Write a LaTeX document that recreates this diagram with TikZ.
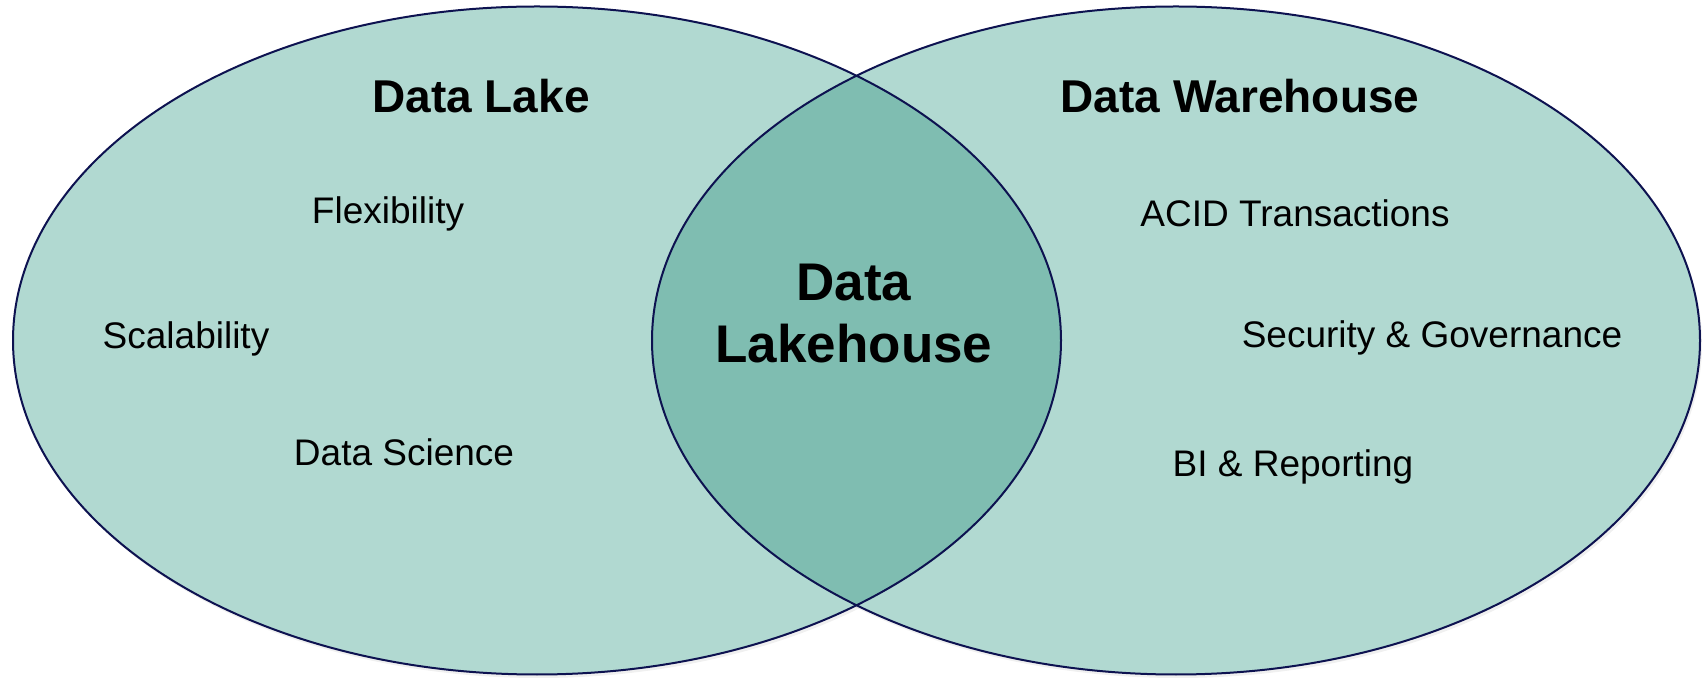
\documentclass[tikz,border=0pt]{standalone}
\usepackage{fontspec}
\setmainfont{Liberation Sans}
\definecolor{lightteal}{HTML}{B1D9D1}
\definecolor{lensteal}{HTML}{7FBDB1}
\definecolor{rimnavy}{HTML}{0D1250}
\begin{document}
\begin{tikzpicture}[x=0.5pt,y=-0.5pt,
  rim/.style={draw=rimnavy,line width=1pt},
  title/.style={font=\fontsize{23}{27}\selectfont\bfseries,inner sep=0pt},
  item/.style={font=\fontsize{18.5}{22}\selectfont,inner sep=0pt},
  core/.style={font=\fontsize{26.5}{31}\selectfont\bfseries,inner sep=0pt,align=center}]
\useasboundingbox (0,0) rectangle (1704,678);
% soft shadows
\fill[black,opacity=0.06] (539,344) ellipse [x radius=262pt,y radius=167pt];
\fill[black,opacity=0.06] (1178,344) ellipse [x radius=262pt,y radius=167pt];
% fills
\fill[lightteal] (537,340.5) ellipse [x radius=262pt,y radius=167pt];
\fill[lightteal] (1176,340.5) ellipse [x radius=262pt,y radius=167pt];
\begin{scope}
  \clip (537,340.5) ellipse [x radius=262pt,y radius=167pt];
  \fill[lensteal] (1176,340.5) ellipse [x radius=262pt,y radius=167pt];
\end{scope}
% outlines
\draw[rim] (537,340.5) ellipse [x radius=262pt,y radius=167pt];
\draw[rim] (1176,340.5) ellipse [x radius=262pt,y radius=167pt];
% texts
\node[title] (lake) at (481,96) {Data Lake};
\node[title] (wh) at (1240,96) {Data Warehouse};
\node[item] (flex) at (388,214) {Flexibility};
\node[item] (scal) at (186,339) {Scalability};
\node[item] (sci) at (404,452) {Data Science};
\node[item] (acid) at (1295,213) {ACID Transactions};
\node[item] (sec) at (1432,338) {Security \& Governance};
\node[item] (bi) at (1293,467) {BI \& Reporting};
\node[core] (lh) at (854,314) {Data\\Lakehouse};
\end{tikzpicture}
\end{document}
